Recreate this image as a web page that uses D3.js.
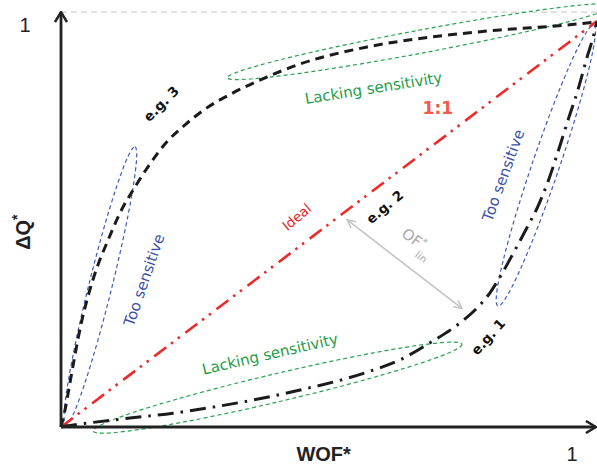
<!DOCTYPE html>
<html>
<head>
<meta charset="utf-8">
<script src="https://cdn.jsdelivr.net/npm/d3@7"></script>
<style>
  html, body { margin: 0; padding: 0; background: #fff; }
  svg { display: block; }
</style>
</head>
<body>
<svg id="chart" width="597" height="464"></svg>
<script>
// ---- data (normalised WOF* vs normalised ΔQ*) ----
const idealX = [0, 1];
const idealY = [0, 1];

// e.g. 3 : too sensitive at low values, lacking sensitivity at high values
const eg3X = [0, 0.0075, 0.017, 0.026, 0.037, 0.050, 0.067, 0.088, 0.110, 0.138, 0.166, 0.196, 0.233, 0.272, 0.321, 0.384, 0.446, 0.571, 0.694, 0.819, 0.944, 1];
const eg3Y = [0, 0.042, 0.111, 0.177, 0.251, 0.320, 0.392, 0.461, 0.527, 0.591, 0.648, 0.700, 0.746, 0.786, 0.823, 0.862, 0.894, 0.936, 0.961, 0.978, 0.990, 0.998];

// e.g. 1 : lacking sensitivity at low values, too sensitive at high values
const eg1X = [0, 0.035, 0.116, 0.209, 0.284, 0.446, 0.571, 0.632, 0.688, 0.744, 0.776, 0.800, 0.821, 0.845, 0.869, 0.890, 0.909, 0.927, 0.946, 0.965, 0.981, 0.993, 1];
const eg1Y = [0, 0.007, 0.020, 0.034, 0.049, 0.091, 0.135, 0.165, 0.207, 0.256, 0.293, 0.330, 0.374, 0.431, 0.490, 0.544, 0.606, 0.677, 0.756, 0.833, 0.909, 0.961, 0.998];

// zones: the two tips of each ellipse in data units
const zoneNames = ["lackHigh", "lackLow", "tooLow", "tooHigh"];
const zoneTipA  = [[0.310, 0.860], [0.060, -0.010], [0.009, 0.005], [0.815, 0.298]];
const zoneTipB  = [[1.034, 1.039], [0.748, 0.204], [0.138, 0.690], [0.994, 0.990]];
const zoneKind  = ["lack", "lack", "too", "too"];

// text annotations
const labelText = ["e.g. 3", "e.g. 2", "e.g. 1", "1:1", "Ideal", "Lacking sensitivity", "Lacking sensitivity", "Too sensitive", "Too sensitive"];
const labelX    = [0.187, 0.604, 0.797, 0.703, 0.440, 0.583, 0.390, 0.155, 0.825];
const labelY    = [0.796, 0.542, 0.222, 0.786, 0.517, 0.835, 0.180, 0.362, 0.620];
const labelRot  = [-45, -40, -48, 0, -40, -9, -13, -71, -70];
const labelKind = ["eg", "eg", "eg", "one", "ideal", "lack", "lack", "too", "too"];

// distance between the ideal line and e.g. 1
const ofFrom = [0.534, 0.510];
const ofTo   = [0.748, 0.292];

const axisTickLabels = ["1", "1"];

// ---- drawing ----
const W = 597, H = 464;
const svg = d3.select("#chart");
svg.append("rect").attr("width", W).attr("height", H).attr("fill", "#fff");

const x = d3.scaleLinear().domain([0, 1]).range([61, 597]);
const y = d3.scaleLinear().domain([0, 1]).range([427, 21]);

const axisTop = 1.022;   // arrow tip of the vertical axis
const axisRight = 0.998; // arrow tip of the horizontal axis

const defs = svg.append("defs");
defs.append("marker")
  .attr("id", "axisArrow").attr("viewBox", "0 0 12 14")
  .attr("refX", 11).attr("refY", 7)
  .attr("markerWidth", 12).attr("markerHeight", 14)
  .attr("markerUnits", "userSpaceOnUse")
  .attr("orient", "auto")
  .append("path").attr("d", "M1,1 L11,7 L1,13")
  .attr("fill", "none").attr("stroke", "#222").attr("stroke-width", 2.5);
defs.append("marker")
  .attr("id", "ofArrow").attr("viewBox", "0 0 10 10")
  .attr("refX", 9).attr("refY", 5)
  .attr("markerWidth", 10).attr("markerHeight", 10)
  .attr("markerUnits", "userSpaceOnUse")
  .attr("orient", "auto-start-reverse")
  .append("path").attr("d", "M1,1 L9,5 L1,9")
  .attr("fill", "none").attr("stroke", "#c4c4c4").attr("stroke-width", 1.6);

// upper bound guide
svg.append("line")
  .attr("x1", x(0)).attr("x2", x(1))
  .attr("y1", y(axisTop)).attr("y2", y(axisTop))
  .attr("stroke", "#d0d0d0").attr("stroke-width", 1.2)
  .attr("stroke-dasharray", "6,4");

// zones (dashed ellipses)
const zoneColor = { lack: "#27a24f", too: "#3d5cb8" };
const zoneHalfWidth = [11.5, 14, 11.5, 13.5];
zoneNames.forEach((name, i) => {
  const ax = x(zoneTipA[i][0]), ay = y(zoneTipA[i][1]);
  const bx = x(zoneTipB[i][0]), by = y(zoneTipB[i][1]);
  const cx = (ax + bx) / 2, cy = (ay + by) / 2;
  const rx = Math.hypot(bx - ax, by - ay) / 2;
  const ang = Math.atan2(by - ay, bx - ax) * 180 / Math.PI;
  svg.append("ellipse")
    .attr("class", "zone " + name)
    .attr("cx", 0).attr("cy", 0)
    .attr("rx", rx).attr("ry", zoneHalfWidth[i])
    .attr("transform", `translate(${cx},${cy}) rotate(${ang})`)
    .attr("fill", "none")
    .attr("stroke", zoneColor[zoneKind[i]])
    .attr("stroke-width", 1.2)
    .attr("stroke-dasharray", "4,3");
});

const line = d3.line().x(d => x(d[0])).y(d => y(d[1])).curve(d3.curveMonotoneX);

// ideal 1:1 line
svg.append("path")
  .datum(d3.zip(idealX, idealY))
  .attr("d", line)
  .attr("fill", "none").attr("stroke", "#ec2a2a").attr("stroke-width", 2.6)
  .attr("stroke-dasharray", "15,6,2.5,6,2.5,7");

// e.g. 3
svg.append("path")
  .datum(d3.zip(eg3X, eg3Y))
  .attr("d", line)
  .attr("fill", "none").attr("stroke", "#1b1b1b").attr("stroke-width", 3)
  .attr("stroke-dasharray", "9,6");

// e.g. 1
svg.append("path")
  .datum(d3.zip(eg1X, eg1Y))
  .attr("d", line)
  .attr("fill", "none").attr("stroke", "#1b1b1b").attr("stroke-width", 3)
  .attr("stroke-dasharray", "16,7,2.5,7");

// axes
svg.append("line")
  .attr("x1", x(0)).attr("y1", y(0)).attr("x2", x(0)).attr("y2", y(axisTop))
  .attr("stroke", "#222").attr("stroke-width", 2.8)
  .attr("marker-end", "url(#axisArrow)");
svg.append("line")
  .attr("x1", x(0)).attr("y1", y(0)).attr("x2", x(axisRight)).attr("y2", y(0))
  .attr("stroke", "#222").attr("stroke-width", 2.8)
  .attr("marker-end", "url(#axisArrow)");

// OF*lin double arrow
svg.append("line")
  .attr("x1", x(ofFrom[0])).attr("y1", y(ofFrom[1]))
  .attr("x2", x(ofTo[0])).attr("y2", y(ofTo[1]))
  .attr("stroke", "#c4c4c4").attr("stroke-width", 1.6)
  .attr("marker-start", "url(#ofArrow)").attr("marker-end", "url(#ofArrow)");

const ofMidX = (x(ofFrom[0]) + x(ofTo[0])) / 2 + 10;
const ofMidY = (y(ofFrom[1]) + y(ofTo[1])) / 2 - 18;
const ofAng = Math.atan2(y(ofTo[1]) - y(ofFrom[1]), x(ofTo[0]) - x(ofFrom[0])) * 180 / Math.PI;
const ofText = svg.append("text")
  .attr("transform", `translate(${ofMidX},${ofMidY}) rotate(${ofAng})`)
  .attr("font-family", "DejaVu Sans, sans-serif")
  .attr("fill", "#a9a9a9")
  .attr("text-anchor", "middle")
  .attr("font-size", 15);
ofText.append("tspan").text("OF");
ofText.append("tspan").attr("font-size", 10).attr("dy", -6).text("*");
ofText.append("tspan").attr("font-size", 10).attr("dx", -2).attr("dy", 14).text("lin");

// annotations
const labelStyle = {
  eg:    { fill: "#111", size: 13.5, weight: "bold" },
  one:   { fill: "#f15a48", size: 17, weight: "bold" },
  ideal: { fill: "#e8242a", size: 13.5, weight: "normal" },
  lack:  { fill: "#1f9d4c", size: 15, weight: "normal" },
  too:   { fill: "#3b52a8", size: 15, weight: "normal" }
};
labelText.forEach((t, i) => {
  const s = labelStyle[labelKind[i]];
  svg.append("text")
    .attr("transform", `translate(${x(labelX[i])},${y(labelY[i])}) rotate(${labelRot[i]})`)
    .attr("text-anchor", "middle")
    .attr("dy", "0.35em")
    .attr("font-family", "DejaVu Sans, sans-serif")
    .attr("font-size", s.size)
    .attr("font-weight", s.weight)
    .attr("fill", s.fill)
    .text(t);
});

// axis titles and end values
const axisFont = "Liberation Sans, Arial, sans-serif";
svg.append("text")
  .attr("x", x(0) - 36).attr("y", y(1) + 11)
  .attr("text-anchor", "middle")
  .attr("font-family", axisFont).attr("font-size", 20).attr("fill", "#222")
  .text(axisTickLabels[1]);
svg.append("text")
  .attr("x", x(1) - 25).attr("y", y(0) + 34)
  .attr("text-anchor", "middle")
  .attr("font-family", axisFont).attr("font-size", 20).attr("fill", "#222")
  .text(axisTickLabels[0]);

const yTitle = svg.append("text")
  .attr("transform", `translate(${x(0) - 31},${y(0.48)}) rotate(-90)`)
  .attr("text-anchor", "middle")
  .attr("font-family", axisFont).attr("font-size", 20).attr("font-weight", "bold").attr("fill", "#222");
yTitle.append("tspan").text("ΔQ");
yTitle.append("tspan").attr("font-size", 14).attr("dy", -8).text("*");

svg.append("text")
  .attr("x", x(0.49)).attr("y", y(0) + 34)
  .attr("text-anchor", "middle")
  .attr("font-family", axisFont).attr("font-size", 20).attr("font-weight", "bold").attr("fill", "#222")
  .text("WOF*");
</script>
</body>
</html>
